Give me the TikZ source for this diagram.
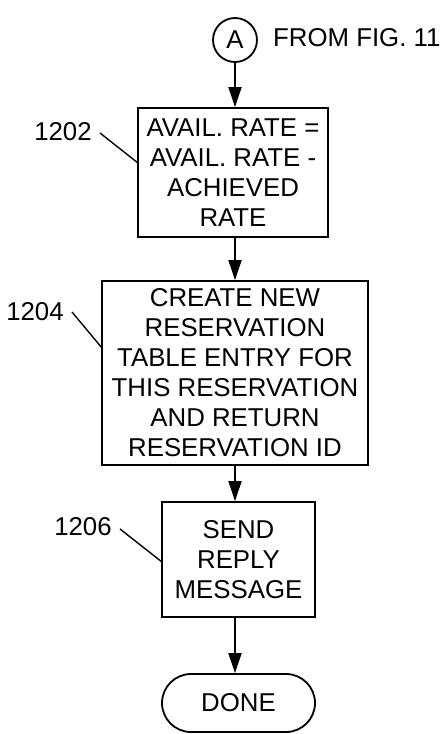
\documentclass[tikz,border=0pt]{standalone}
\usepackage{fontspec}
\setmainfont{Liberation Sans}
\usetikzlibrary{arrows.meta,shapes.geometric}
\begin{document}
\begin{tikzpicture}[x=1pt,y=1pt,
  every node/.style={font=\fontsize{25.8}{30}\selectfont},
  stepbox/.style={draw,line width=1.8pt,align=center,inner sep=0pt},
  flow/.style={line width=1.8pt,-{Triangle[length=20pt,width=13pt]}},
  leader/.style={line width=1.4pt},
  reflabel/.style={inner sep=1pt}]
\useasboundingbox (0,0) rectangle (445,-734);
\node[draw,circle,line width=1.8pt,minimum size=44pt,inner sep=0pt] (A) at (235,-40) {A};
\node[anchor=west,inner sep=0pt] (from) at (273,-38) {FROM FIG. 11};
\node[stepbox,minimum width=190pt,minimum height=129pt] (b1) at (233,-172.5) {AVAIL. RATE =\\AVAIL. RATE -\\ACHIEVED\\RATE};
\node[stepbox,minimum width=266pt,minimum height=184pt] (b2) at (235,-373) {CREATE NEW\\RESERVATION\\TABLE ENTRY FOR\\THIS RESERVATION\\AND RETURN\\RESERVATION ID};
\node[stepbox,minimum width=153pt,minimum height=115pt] (b3) at (238.5,-559.5) {SEND\\REPLY\\MESSAGE};
\node[draw,line width=1.8pt,rounded corners=29pt,minimum width=153pt,minimum height=58pt,inner sep=0pt] (done) at (238.5,-703) {DONE};
\node[reflabel] (l1) at (63,-132) {1202};
\node[reflabel] (l2) at (35,-312) {1204};
\node[reflabel] (l3) at (83,-527) {1206};
\coordinate (e1) at (138,-163);
\coordinate (e2) at (102,-348);
\coordinate (e3) at (162,-562);
\coordinate (s1) at (100,-133);
\coordinate (s2) at (72,-312);
\coordinate (s3) at (120,-529);
\draw[leader] (s1) -- (e1);
\draw[leader] (s2) -- (e2);
\draw[leader] (s3) -- (e3);
\draw[flow] (A.south) -- (A.south |- b1.north);
\draw[flow] (A.south |- b1.south) -- (A.south |- b2.north);
\draw[flow] (A.south |- b2.south) -- (A.south |- b3.north);
\draw[flow] (A.south |- b3.south) -- (A.south |- done.north);
\end{tikzpicture}
\end{document}
